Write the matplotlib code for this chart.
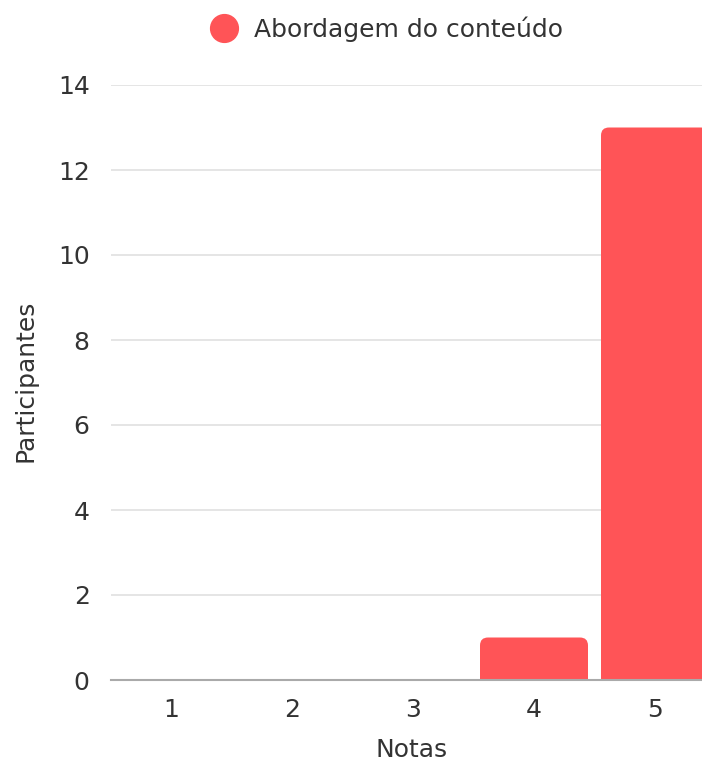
import matplotlib
matplotlib.use("Agg")
import matplotlib.pyplot as plt
from matplotlib.patches import FancyBboxPatch
from matplotlib.lines import Line2D

categories = ["1", "2", "3", "4", "5"]
values = [0, 0, 0, 1, 13]
series_name = "Abordagem do conteúdo"
yticks = [0, 2, 4, 6, 8, 10, 12, 14]

plt.rcParams['font.family'] = ['DejaVu Sans']
color = "#FF5457"
text_color = "#333333"
FS = 18

W, H = 702, 765
fig = plt.figure(figsize=(W / 100, H / 100), dpi=100)
left_px, right_px = 110.5, 715.5
bottom_px, top_px = 680, 85
ax = fig.add_axes([left_px / W, (H - bottom_px) / H,
                   (right_px - left_px) / W, (bottom_px - top_px) / H])
ax.set_xlim(0.5, 5.5)
ax.set_ylim(0, 14)

px_x = (right_px - left_px) / 5.0
px_y = (bottom_px - top_px) / 14.0
r = 8.0 / px_x
aspect = px_x / px_y
bw = 108 / px_x
for i, v in enumerate(values):
    if v <= 0:
        continue
    x = i + 1
    p = FancyBboxPatch((x - bw / 2, -0.5), bw, v + 0.5,
                       boxstyle=f"round,pad=0,rounding_size={r}",
                       mutation_aspect=aspect, facecolor=color,
                       edgecolor="none", zorder=3)
    ax.add_patch(p)

ax.set_xticks(range(1, 6))
ax.set_xticklabels(categories)
ax.set_yticks(yticks)
ax.tick_params(length=0, labelsize=FS, colors=text_color)
ax.tick_params(axis='x', pad=13)
ax.tick_params(axis='y', pad=15)
ax.grid(axis='y', color="#e0e0e0", linewidth=1.2, zorder=0)
ax.grid(axis='x', visible=False)
for s in ["top", "right", "left"]:
    ax.spines[s].set_visible(False)
ax.spines["bottom"].set_color("#aaaaaa")
ax.spines["bottom"].set_linewidth(1.5)
ax.spines["bottom"].set_zorder(4)
ax.set_axisbelow(True)

fig.text(412 / W, 1 - 750 / H, "Notas", ha="center", va="center",
         fontsize=FS, color=text_color)
fig.text(26 / W, 1 - 381 / H, "Participantes", ha="center", va="center",
         rotation=90, fontsize=FS, color=text_color)

handle = Line2D([], [], marker='o', linestyle='none', markersize=20,
                markerfacecolor=color, markeredgecolor=color)
fig.legend([handle], [series_name], loc="center left",
           bbox_to_anchor=(210 / W, 1 - 29 / H), frameon=False,
           fontsize=FS, labelcolor=text_color, handletextpad=0.6,
           borderpad=0, borderaxespad=0, handlelength=1.15)

fig.savefig("out.png", dpi=100)
